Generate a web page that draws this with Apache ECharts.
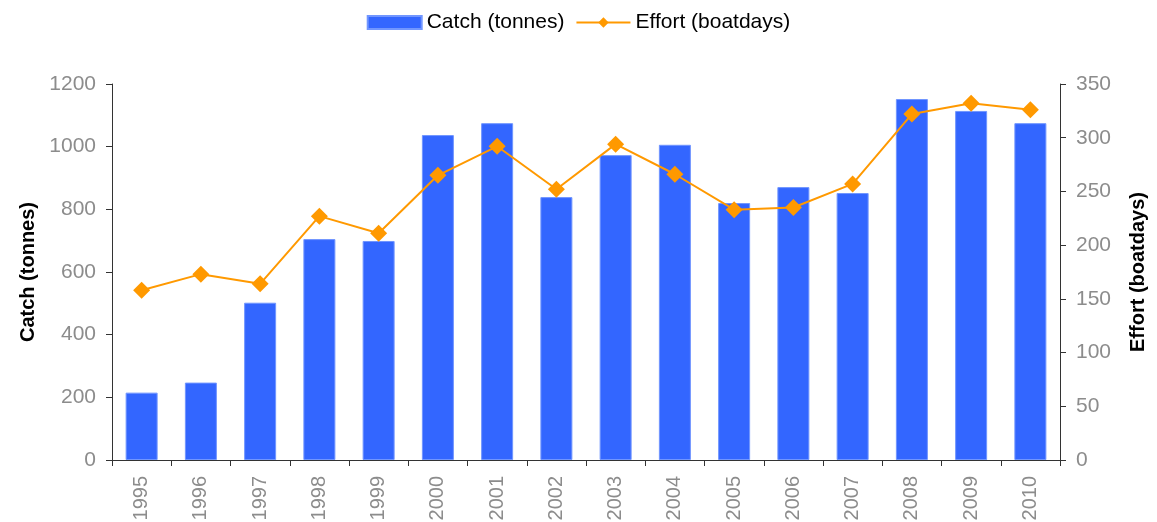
<!DOCTYPE html>
<html>
<head>
<meta charset="utf-8">
<script src="https://cdn.jsdelivr.net/npm/echarts@6/dist/echarts.min.js"></script>
<style>
  html, body { margin: 0; padding: 0; background: #fff; }
  #chart { width: 1157px; height: 522px; }
</style>
</head>
<body>
<div id="chart"></div>
<script>
  var years = ['1995', '1996', '1997', '1998', '1999', '2000', '2001', '2002',
    '2003', '2004', '2005', '2006', '2007', '2008', '2009', '2010'];
  var catchTonnes = [215, 247, 502, 705, 699, 1037, 1075, 839,
    973, 1006, 820, 871, 852, 1152, 1114, 1075];
  var effortDays = [158, 173, 164, 227, 211, 265, 292, 252,
    294, 266, 233, 235, 257, 322, 332, 326];

  var tickColor = '#8c8c8c';
  var lineColor = '#333333';
  var fontName = 'Liberation Sans, Arial, sans-serif';

  var myChart = echarts.init(document.getElementById('chart'));
  var option = {
    animation: false,
    textStyle: { fontFamily: fontName },
    legend: {
      top: 7,
      left: 'center',
      itemWidth: 54,
      itemHeight: 13,
      itemGap: 11,
      textStyle: { color: '#000', fontSize: 21, fontFamily: fontName },
      data: [{ name: 'Catch (tonnes)', icon: 'rect' }, { name: 'Effort (boatdays)' }]
    },
    grid: {
      left: 112,
      right: 97,
      top: 84,
      bottom: 62,
      containLabel: false,
      outerBoundsMode: 'none'
    },
    xAxis: {
      type: 'category',
      data: years,
      boundaryGap: true,
      axisLine: { lineStyle: { color: lineColor, width: 1 } },
      axisTick: { show: true, length: 6, lineStyle: { color: lineColor } },
      axisLabel: {
        rotate: 90,
        interval: 0,
        margin: 16,
        color: tickColor,
        fontSize: 20,
        fontFamily: fontName
      },
      splitLine: { show: false }
    },
    yAxis: [{
      type: 'value',
      min: 0,
      max: 1200,
      interval: 200,
      name: 'Catch (tonnes)',
      nameLocation: 'middle',
      nameRotate: 90,
      nameGap: 72,
      nameTextStyle: { color: '#000', fontSize: 20, fontWeight: 'bold', fontFamily: fontName },
      axisLine: { show: true, lineStyle: { color: lineColor } },
      axisTick: { show: true, length: 6, lineStyle: { color: lineColor } },
      axisLabel: {
        color: tickColor, fontSize: 21, margin: 16, fontFamily: fontName,
        formatter: function(v) { return String(v); }
      },
      splitLine: { show: false }
    }, {
      type: 'value',
      min: 0,
      max: 350,
      interval: 50,
      position: 'right',
      name: 'Effort (boatdays)',
      nameLocation: 'middle',
      nameRotate: 90,
      nameGap: 68,
      nameTextStyle: { color: '#000', fontSize: 20, fontWeight: 'bold', fontFamily: fontName },
      axisLine: { show: true, lineStyle: { color: lineColor } },
      axisTick: { show: true, length: 6, lineStyle: { color: lineColor } },
      axisLabel: {
        color: tickColor, fontSize: 21, margin: 16, fontFamily: fontName,
        formatter: function(v) { return String(v); }
      },
      splitLine: { show: false }
    }],
    series: [{
      name: 'Catch (tonnes)',
      type: 'bar',
      yAxisIndex: 0,
      barWidth: 32,
      itemStyle: { color: '#3366ff', borderColor: '#7196ff', borderWidth: 1 },
      data: catchTonnes
    }, {
      name: 'Effort (boatdays)',
      type: 'line',
      yAxisIndex: 1,
      symbol: 'diamond',
      symbolSize: 17,
      lineStyle: { color: '#ff9900', width: 2 },
      itemStyle: { color: '#ff9900' },
      data: effortDays
    }]
  };
  myChart.setOption(option);
</script>
</body>
</html>
